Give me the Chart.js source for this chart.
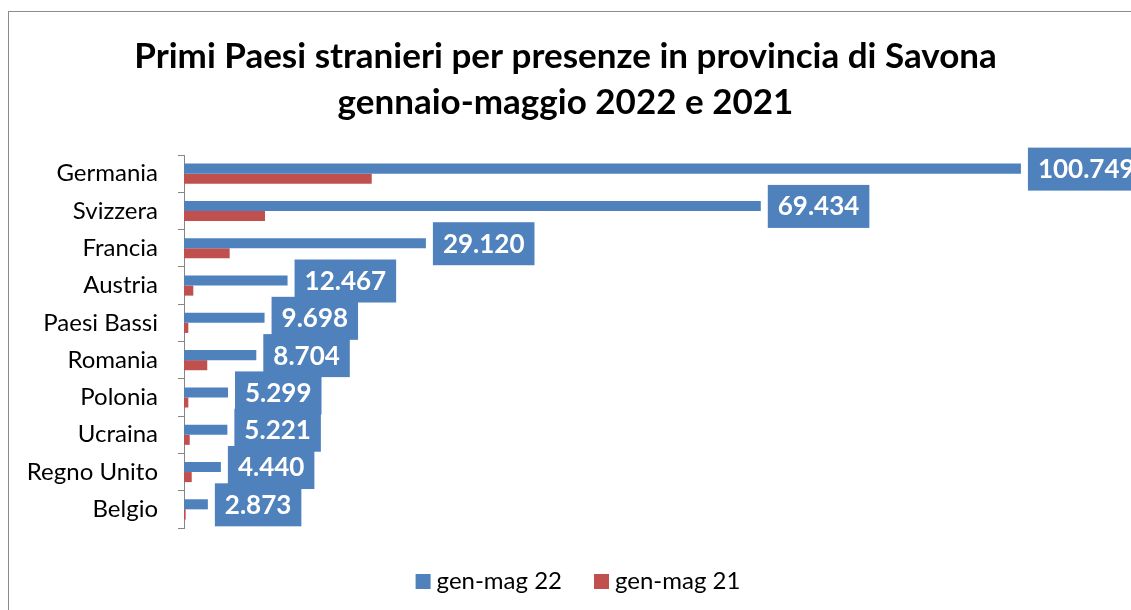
<!DOCTYPE html>
<html>
<head>
<meta charset="utf-8">
<script src="https://cdn.jsdelivr.net/npm/chart.js@4"></script>
<style>
    body { margin: 0; overflow: hidden; background: #fff; }
    #wrap { position: relative; width: 1131px; height: 610px; }
    #frame { position: absolute; left: 8px; top: 11px; width: 1200px; height: 700px; border: 1px solid #8c8c8c; }
    #c { position: absolute; left: 0; top: 0; }
</style>
</head>
<body>
<div id="wrap">
    <div id="frame"></div>
    <canvas id="c" width="1131" height="610"></canvas>
</div>
<script>
// paesi e presenze gen-mag
var paesi = ['Germania', 'Svizzera', 'Francia', 'Austria', 'Paesi Bassi',
    'Romania', 'Polonia', 'Ucraina', 'Regno Unito', 'Belgio'];
var genMag22 = [100749, 69434, 29120, 12467, 9698, 8704, 5299, 5221, 4440, 2873];
// valori 2021 stimati dalla lunghezza delle barre
var genMag21 = [22600, 9750, 5500, 1120, 520, 2800, 520, 690, 930, 200];

var FONT = 'Lato, "Open Sans", sans-serif';

function formatIt(n) {
    return String(n).replace(/\B(?=(\d{3})+(?!\d))/g, '.');
}

// etichette nei riquadri blu
var boxLabels = {
    id: 'boxLabels',
    afterDatasetsDraw: function(chart) {
        var ctx = chart.ctx;
        var meta = chart.getDatasetMeta(0);
        ctx.save();
        ctx.font = 'bold 26px ' + FONT;
        ctx.textBaseline = 'middle';
        meta.data.forEach(function(bar, i) {
            var txt = formatIt(genMag22[i]);
            var w = ctx.measureText(txt).width + 20;
            var x = bar.x + 7;
            var y = bar.y;
            ctx.fillStyle = '#4F81BD';
            ctx.fillRect(x, y - 21, w, 43);
            ctx.fillStyle = '#ffffff';
            ctx.textAlign = 'left';
            ctx.fillText(txt, x + 10, y + 1);
        });
        ctx.restore();
    }
};

// legenda in basso, stile Excel
var legendaExcel = {
    id: 'legendaExcel',
    afterDraw: function(chart) {
        var ctx = chart.ctx;
        var ds = chart.data.datasets;
        ctx.save();
        ctx.font = '24px ' + FONT;
        ctx.textBaseline = 'middle';
        var gap = 6, sep = 32, box = 15;
        var total = 0;
        ds.forEach(function(d, i) {
            total += box + gap + ctx.measureText(d.label).width + (i < ds.length - 1 ? sep : 0);
        });
        var x = 578 - total / 2;
        var y = 581;
        ds.forEach(function(d) {
            ctx.fillStyle = d.backgroundColor;
            ctx.fillRect(x, y - 7, box, box);
            x += box + gap;
            ctx.fillStyle = '#000';
            ctx.fillText(d.label, x, y);
            x += ctx.measureText(d.label).width + sep;
        });
        ctx.restore();
    }
};

var ctx = document.getElementById('c').getContext('2d');
var myChart = new Chart(ctx, {
    type: 'bar',
    data: {
        labels: paesi,
        datasets: [{
            label: 'gen-mag 22',
            data: genMag22,
            backgroundColor: '#4F81BD'
        }, {
            label: 'gen-mag 21',
            data: genMag21,
            backgroundColor: '#C0504D'
        }]
    },
    options: {
        indexAxis: 'y',
        responsive: false,
        animation: false,
        layout: { padding: { top: 34, bottom: 82, left: 0, right: 0 } },
        datasets: {
            bar: { barPercentage: 1, categoryPercentage: 0.54 }
        },
        scales: {
            x: {
                display: false,
                min: 0,
                max: 114000
            },
            y: {
                afterFit: function(scale) { scale.width = 184; },
                grid: {
                    drawOnChartArea: false,
                    tickLength: 6,
                    color: '#868686'
                },
                border: { display: true, color: '#868686' },
                ticks: {
                    color: '#000',
                    padding: 20,
                    font: { family: FONT, size: 24 }
                }
            }
        },
        plugins: {
            title: {
                display: true,
                text: ['Primi Paesi stranieri per presenze in provincia di Savona', 'gennaio-maggio 2022 e 2021'],
                color: '#000',
                font: { family: FONT, size: 35, weight: 'bold', lineHeight: '46px' },
                padding: { top: 0, bottom: 29 }
            },
            legend: { display: false },
            tooltip: { enabled: false }
        }
    },
    plugins: [boxLabels, legendaExcel]
});
</script>
</body>
</html>
